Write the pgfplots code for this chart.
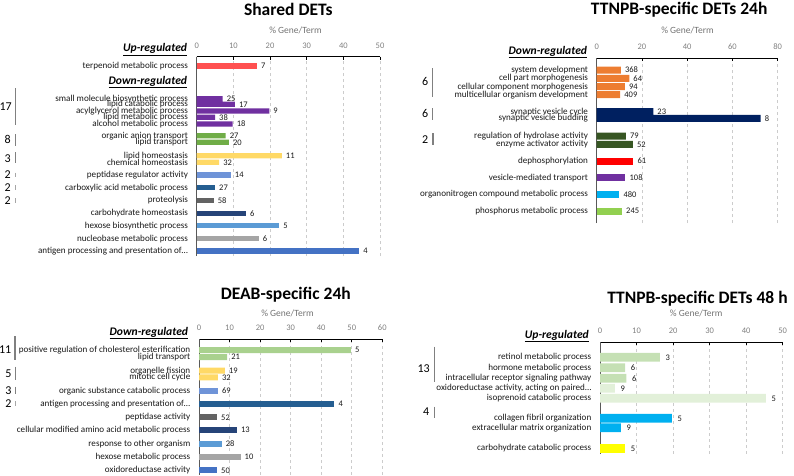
\documentclass[border=0pt]{standalone}
\usepackage{fontspec}
\setmainfont{Carlito}
\usepackage{pgfplots}
\pgfplotsset{compat=1.18}

\definecolor{cCoral}{HTML}{FF5050}
\definecolor{cPurple}{HTML}{7030A0}
\definecolor{cGreen}{HTML}{70AD47}
\definecolor{cGold}{HTML}{FFD966}
\definecolor{cCorn}{HTML}{6F94D8}
\definecolor{cSteel}{HTML}{255E91}
\definecolor{cDGray}{HTML}{636363}
\definecolor{cNavyB}{HTML}{264478}
\definecolor{cSky}{HTML}{5B9BD5}
\definecolor{cLGray}{HTML}{A5A5A5}
\definecolor{cBlue}{HTML}{4472C4}
\definecolor{cOrange}{HTML}{ED7D31}
\definecolor{cNavy}{HTML}{002060}
\definecolor{cForest}{HTML}{375623}
\definecolor{cRed}{HTML}{FF0000}
\definecolor{cCyan}{HTML}{00B0F0}
\definecolor{cLime}{HTML}{92D050}
\definecolor{cSage}{HTML}{A9D18E}
\definecolor{cMint}{HTML}{C5E0B4}
\definecolor{cPale}{HTML}{E2F0D9}
\definecolor{cYellow}{HTML}{FFFF00}

\newcommand{\fs}[1]{\fontsize{#1}{#1}\selectfont}

\pgfplotsset{
  panel/.style={
    scale only axis, xbar, bar shift=0pt, anchor=north west,
    axis x line=top, axis y line=left,
    axis line style={-},
    x axis line style={black, line width=0.9pt},
    y axis line style={black!65, line width=1pt},
    tick align=inside, major tick length=3pt,
    xtick style={black, line width=0.6pt},
    ytick style={draw=none},
    xmajorgrids, grid style={dashed, black!20, line width=0.6pt},
    xmin=0,
    /pgf/number format/assume math mode=true,
    xticklabel style={font=\fs{8.5}, text=black!50, yshift=5pt},
    yticklabel style={font=\fs{9.1}, text=black!90, inner sep=0pt, xshift=-8.5pt},
    nodes near coords, point meta=explicit symbolic,
    nodes near coords align=horizontal,
    valgap/.initial=4pt,
    every node near coord/.append style={anchor=west, font=\fs{8.5}, text=black!90,
      inner sep=0pt, xshift=\pgfkeysvalueof{/pgfplots/valgap}},
  },
}

\newcommand{\grp}[6]{%
  \node[anchor=east, font=\fs{12}, inner sep=0pt] at (#1,-#2) {#3};
  \draw[black!50, line width=1.4pt] (#4,-#5) -- (#4,-#6);}
% small two-term cluster: short light tick
\newcommand{\grps}[3]{%
  \node[anchor=east, font=\fs{12}, inner sep=0pt] at (#1,-#2) {2};
  \draw[black!35, line width=1.3pt] (#3,-#2+2.3) -- (#3,-#2-2.3);}
\newcommand{\hdr}[3]{%
  \node[anchor=base east, font=\fs{11.6}\bfseries\itshape, inner sep=0pt] at (#1,-#2) {\underline{#3}};}
\newcommand{\ttl}[3]{%
  \node[anchor=base, font=\fs{17.5}\bfseries, inner sep=0pt] at (#1,-#2) {#3};}
\newcommand{\gt}[2]{%
  \node[anchor=base, font=\fs{9.5}, text=black!55, inner sep=0pt] at (#1,-#2) {\% Gene/Term};}

\begin{document}
\begin{tikzpicture}[x=1pt,y=1pt]
\path[use as bounding box] (0,0) rectangle (794,-475);

% ---- Shared DETs
\begin{axis}[panel, at={(196.7pt,-56.7pt)}, width=183.3pt, height=199.3pt,
  xmax=50, ymin=-256, ymax=-56.7, xtick={0,10,...,50}, bar width=5.3,
  ytick={-66,-98.7,-104.3,-111,-117.3,-124,-135.7,-142.3,-155.7,-162.3,-175,-187.7,-200.3,-213.3,-225.7,-238.7,-251},
  yticklabels={terpenoid metabolic process, small molecule biosynthetic process, lipid catabolic process,
    acylglycerol metabolic process, lipid metabolic process, alcohol metabolic process,
    organic anion transport, lipid transport, lipid homeostasis, chemical homeostasis,
    peptidase regulator activity, carboxylic acid metabolic process, proteolysis,
    carbohydrate homeostasis, hexose biosynthetic process, nucleobase metabolic process,
    antigen processing and presentation of\ldots}]
\addplot[fill=cCoral, draw=none] coordinates {(16.4,-66) [7]};
\addplot[fill=cPurple, draw=none] coordinates {(7.1,-98.7) [25] (10.4,-104.3) [17] (19.8,-111) [9] (5.0,-117.3) [38] (9.8,-124) [18]};
\addplot[fill=cGreen, draw=none] coordinates {(7.9,-135.7) [27] (8.8,-142.3) [20]};
\addplot[fill=cGold, draw=none] coordinates {(23.2,-155.7) [11] (6.1,-162.3) [32]};
\addplot[fill=cCorn, draw=none] coordinates {(9.3,-175) [14]};
\addplot[fill=cSteel, draw=none] coordinates {(5.0,-187.7) [27]};
\addplot[fill=cDGray, draw=none] coordinates {(4.6,-200.3) [58]};
\addplot[fill=cNavyB, draw=none] coordinates {(13.4,-213.3) [6]};
\addplot[fill=cSky, draw=none] coordinates {(22.5,-225.7) [5]};
\addplot[fill=cLGray, draw=none] coordinates {(16.9,-238.7) [6]};
\addplot[fill=cBlue, draw=none] coordinates {(44.3,-251) [4]};
\end{axis}

% ---- TTNPB 24h
\begin{axis}[panel, at={(596.7pt,-58.3pt)}, width=181pt, height=164.7pt,
  xmax=80, ymin=-223, ymax=-58.3, xtick={0,20,...,80}, bar width=7,
  ytick={-70,-78.3,-86.7,-94.7,-111.7,-118.3,-136,-144.3,-161,-177.7,-194.3,-211},
  yticklabels={system development, cell part morphogenesis, cellular component morphogenesis,
    multicellular organism development, synaptic vesicle cycle, synaptic vesicle budding,
    regulation of hydrolase activity, enzyme activator activity, dephosphorylation,
    vesicle-mediated transport, organonitrogen compound metabolic process,
    phosphorus metabolic process}]
\addplot[fill=cOrange, draw=none] coordinates {(10.7,-70) [368] (14.4,-78.3) [64] (12.5,-86.7) [94] (10.4,-94.7) [409]};
\addplot[fill=cNavy, draw=none] coordinates {(25.0,-111.7) [23] (72.5,-118.3) [8]};
\addplot[fill=cForest, draw=none] coordinates {(12.9,-136) [79] (16.0,-144.3) [52]};
\addplot[fill=cRed, draw=none] coordinates {(16.2,-161) [61]};
\addplot[fill=cPurple, draw=none] coordinates {(12.7,-177.7) [108]};
\addplot[fill=cCyan, draw=none] coordinates {(10.0,-194.3) [480]};
\addplot[fill=cLime, draw=none] coordinates {(11.2,-211) [245]};
\end{axis}

% ---- DEAB 24h
\begin{axis}[panel, at={(199pt,-339.3pt)}, width=183.3pt, height=135.2pt,
  xmax=60, ymin=-474.5, ymax=-339.3, xtick={0,10,...,60}, bar width=6,
  ytick={-350,-357,-370.7,-377.3,-391,-403.7,-417.3,-430,-444,-456.7,-470.3},
  yticklabels={positive regulation of cholesterol esterification, lipid transport,
    organelle fission, mitotic cell cycle, organic substance catabolic process,
    antigen processing and presentation of\ldots, peptidase activity,
    cellular modified amino acid metabolic process, response to other organism,
    hexose metabolic process, oxidoreductase activity}]
\addplot[fill=cSage, draw=none] coordinates {(49.7,-350) [5] (9.2,-357) [21]};
\addplot[fill=cGold, draw=none] coordinates {(8.5,-370.7) [19] (6.2,-377.3) [32]};
\addplot[fill=cCorn, draw=none] coordinates {(6.2,-391) [69]};
\addplot[fill=cSteel, draw=none] coordinates {(44.3,-403.7) [4]};
\addplot[fill=cDGray, draw=none] coordinates {(5.9,-417.3) [52]};
\addplot[fill=cNavyB, draw=none] coordinates {(12.4,-430) [13]};
\addplot[fill=cSky, draw=none] coordinates {(7.4,-444) [28]};
\addplot[fill=cLGray, draw=none] coordinates {(13.6,-456.7) [10]};
\addplot[fill=cBlue, draw=none] coordinates {(5.9,-470.3) [50]};
\end{axis}

% ---- TTNPB 48h
\begin{axis}[panel, at={(600pt,-342.3pt)}, width=182.7pt, height=111.2pt,
  xmax=50, ymin=-453.5, ymax=-342.3, xtick={0,10,...,50}, bar width=8.7,
  valgap=5.5pt,
  ytick={-357.3,-367.7,-378.3,-388.3,-398.3,-418.3,-427.7,-448.3},
  yticklabels={retinol metabolic process, hormone metabolic process,
    intracellular receptor signaling pathway, {oxidoreductase activity, acting on paired\ldots},
    isoprenoid catabolic process, collagen fibril organization,
    extracellular matrix organization, carbohydrate catabolic process}]
\addplot[fill=cMint, draw=none] coordinates {(16.4,-357.3) [3] (6.9,-367.7) [6] (7.2,-378.3) [6]};
\addplot[fill=cPale, draw=none] coordinates {(4.1,-388.3) [9] (45.4,-398.3) [5]};
\addplot[fill=cCyan, draw=none] coordinates {(19.7,-418.3) [5] (5.7,-427.7) [9]};
\addplot[fill=cYellow, draw=none] coordinates {(6.9,-448.3) [5]};
\end{axis}

% titles and axis captions
\ttl{288.3}{15}{Shared DETs}
\ttl{679.2}{14}{TTNPB-specific DETs 24h}
\ttl{285.8}{299}{DEAB-specific 24h}
\ttl{697.5}{303.3}{TTNPB-specific DETs 48 h}
\gt{295.5}{33.5}
\gt{687.5}{33}
\gt{287.5}{316}
\gt{696.2}{316}

% up / down headers
\hdr{187.3}{51.5}{Up-regulated}
\hdr{187.3}{84}{Down-regulated}
\hdr{587.3}{54.3}{Down-regulated}
\hdr{188.3}{335}{Down-regulated}
\hdr{589}{338.3}{Up-regulated}

% cluster sizes
\grp{12}{106.7}{17}{15.5}{88}{125}
\grp{11}{139}{8}{15.5}{134.3}{145.7}
\grp{11}{158.3}{3}{15.5}{152.3}{163.3}
\grps{11}{175}{15.5}
\grps{11}{187.7}{15.5}
\grps{11}{200.3}{15.5}
\grp{428.5}{81.7}{6}{432.5}{68}{97.3}
\grp{428.5}{113.3}{6}{432.5}{108.3}{120}
\grp{428.5}{140}{2}{433}{133.3}{145}
\grp{11.5}{349.3}{11}{14.8}{336}{360}
\grp{11.7}{373.3}{5}{15.5}{366.7}{380}
\grp{11.7}{391}{3}{15.5}{386.7}{394.3}
\grps{11.7}{403.7}{15.5}
\grp{430}{369}{13}{434.3}{346.7}{381.7}
\grp{429.3}{411.7}{4}{434.3}{406.7}{418.3}
\end{tikzpicture}
\end{document}
